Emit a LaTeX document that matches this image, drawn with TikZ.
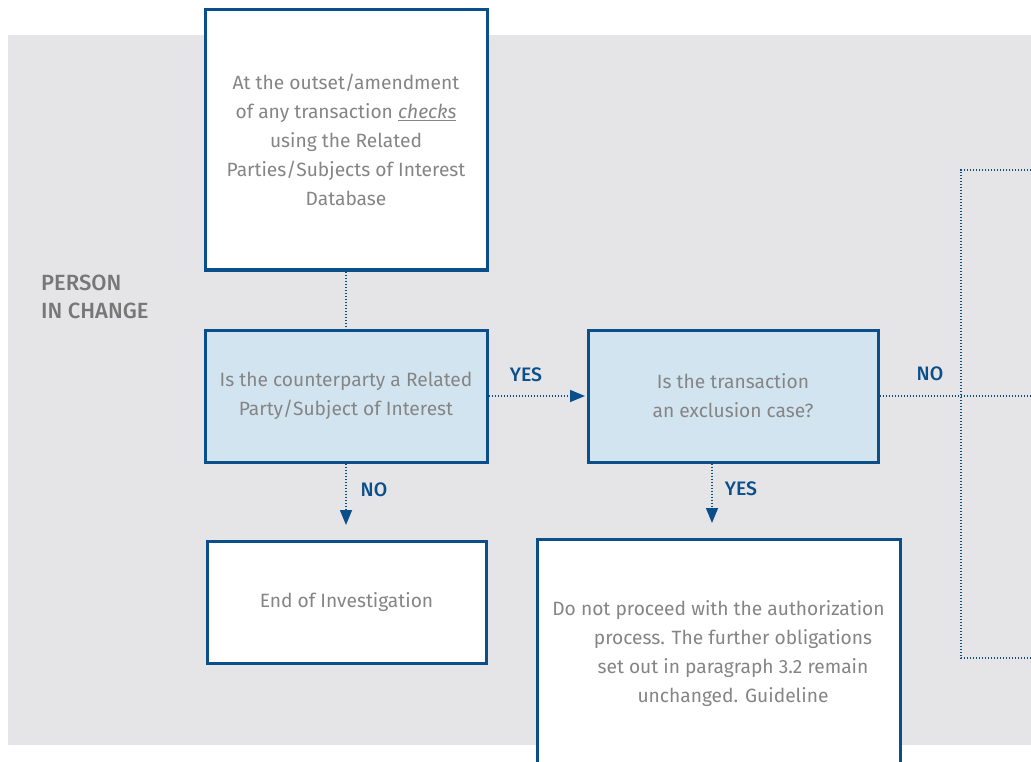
\documentclass[tikz,border=0pt]{standalone}
\usepackage{fontspec}
\setmainfont{Fira Sans}
\newfontfamily\lblfont{Fira Sans Medium}
\usetikzlibrary{arrows.meta}
\definecolor{bgray}{HTML}{E5E5E8}
\definecolor{bblue}{HTML}{0B4F8A}
\definecolor{lblue}{HTML}{D2E4EF}
\definecolor{tgray}{HTML}{858585}
\definecolor{pgray}{HTML}{777777}
\tikzset{
  box/.style={draw=bblue, line width=3pt, fill=white, rectangle, inner sep=0pt,
    text=tgray, align=center, font=\fontsize{19.2}{29}\selectfont},
  qbox/.style={box, fill=lblue},
  conn/.style={draw=bblue, line width=1.5pt, dash pattern=on 1.3pt off 1.7pt},
  arr/.style={conn, -{Triangle[length=15pt,width=12pt]}},
  lbl/.style={text=bblue, font=\lblfont\fontsize{19.5}{22}\selectfont, inner sep=0pt},
  txt/.style={text=tgray, align=center, font=\fontsize{19.2}{29}\selectfont, inner sep=0pt}
}
\begin{document}
\begin{tikzpicture}[x=1pt,y=-1pt]
\useasboundingbox (0,0) rectangle (1031,762);
\begin{scope}
\clip (0,0) rectangle (1031,762);
\fill[bgray] (8,35) rectangle (1031,745);
\node[pgray, align=left, anchor=north west, inner sep=0pt, font=\lblfont\fontsize{22}{28}\selectfont] (person) at (41,275) {PERSON\\IN CHANGE};

\node[box, minimum width=282pt, minimum height=260pt] (b1) at (346,140) {At the outset/amendment\\of any transaction \underline{\textit{checks}}\\using the Related\\Parties/Subjects of Interest\\Database};
\node[qbox, minimum width=282pt, minimum height=132pt] (b2) at (346,396) {Is the counterparty a Related\\Party/Subject of Interest};
\node[qbox, minimum width=290pt, minimum height=132pt] (b3) at (733,396) {Is the transaction\\an exclusion case?};
\node[box, minimum width=279pt, minimum height=122pt] (b4) at (346.5,602) {End of Investigation};
\node[box, minimum width=363pt, minimum height=270pt, anchor=north] (b5) at (718.5,538) {};
\node[txt] (t5) at (733,654) {Do not proceed with the authorization\hspace*{29pt}\\process. The further obligations\\set out in paragraph 3.2 remain\\unchanged. Guideline};

\coordinate (a1) at (585,396);
\coordinate (a2) at (346,525);
\coordinate (a3) at (712,523);
\coordinate (noend) at (1040,396);
\coordinate (r1) at (1040,170);
\coordinate (r2) at (961,170);
\coordinate (r3) at (961,658);
\coordinate (r4) at (1040,658);

\draw[conn] (b1.south) -- (b2.north);
\draw[arr] (b2.east) -- (a1);
\draw[arr] (b2.south) -- (a2);
\draw[arr] (b3.south -| a3) -- (a3);
\draw[conn] (b3.east) -- (noend);
\draw[conn] (r1) -- (r2) -- (r3) -- (r4);

\node[lbl] (yes1) at (526,375) {YES};
\node[lbl] (no1) at (374,490) {NO};
\node[lbl] (yes2) at (741,489) {YES};
\node[lbl] (no2) at (930,374) {NO};
\end{scope}
\end{tikzpicture}
\end{document}
